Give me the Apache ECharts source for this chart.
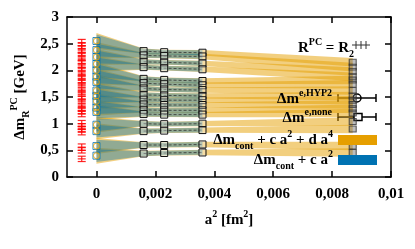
<!DOCTYPE html>
<html><head><meta charset="utf-8">
<script src="https://cdn.jsdelivr.net/npm/echarts@6/dist/echarts.min.js"></script>
<style>html,body{margin:0;padding:0;background:#fff}#c{width:415px;height:249px}</style>
</head><body><div id="c"></div>
<script>
// ---- data ----
const a2Points = [0, 0.0016, 0.0023, 0.0036, 0.0087];   // a^2 [fm^2], first = continuum
const latticeA2 = [0.0016, 0.0023, 0.0036];
const coarseA2 = 0.0087;
// energy levels: value at continuum, a2=0.0016, 0.0023, 0.0036, 0.0087
const levels = [
  [2.55, 2.36, 2.34, 2.33, 2.15],
  [2.38, 2.28, 2.27, 2.26, 2.06],
  [2.25, 2.16, 2.15, 2.13, 1.98],
  [2.12, 2.06, 2.04, 2.02, 1.88],
  [2.00, 1.84, 1.82, 1.80, 1.82],
  [1.88, 1.76, 1.74, 1.72, 1.74],
  [1.78, 1.66, 1.64, 1.63, 1.62],
  [1.62, 1.54, 1.53, 1.52, 1.52],
  [1.52, 1.45, 1.44, 1.44, 1.44],
  [1.42, 1.36, 1.35, 1.35, 1.36],
  [1.30, 1.26, 1.25, 1.25, 1.28],
  [1.22, 1.18, 1.17, 1.17, 1.20],
  [0.98, 1.00, 0.99, 1.00, 1.04],
  [0.86, 0.86, 0.87, 0.88, 0.90],
  [0.58, 0.60, 0.60, 0.61, 0.58],
  [0.40, 0.44, 0.45, 0.46, 0.46]
];
const orangeHalfWidth = [0.15, 0.05, 0.045, 0.05, 0.08];
const blueHalfWidth = [0.12, 0.045, 0.04, 0.045];
const redX = -0.0005;
const redValues = [2.52, 2.46, 2.40, 2.33, 2.26, 2.18, 2.12, 2.05, 1.98, 1.90, 1.83, 1.76, 1.68, 1.60, 1.52, 1.46, 1.38, 1.30, 1.24, 1.18, 1.00, 0.95, 0.90, 0.84, 0.56, 0.50, 0.34];
const redErrors = [0.06, 0.05, 0.06, 0.05, 0.06, 0.05, 0.06, 0.05, 0.06, 0.05, 0.06, 0.05, 0.06, 0.05, 0.06, 0.05, 0.06, 0.05, 0.05, 0.05, 0.06, 0.05, 0.05, 0.05, 0.06, 0.05, 0.05];
const xTicks = [0, 0.002, 0.004, 0.006, 0.008, 0.01];

// ---- build ----
const FONT = '"Liberation Serif", "DejaVu Serif", serif';
const orangeBands = levels.map(l => {
  const it = [];
  a2Points.forEach((x, j) => { it.push(x, l[j] - orangeHalfWidth[j], l[j] + orangeHalfWidth[j]); });
  return it;
});
const blueBands = levels.map(l => {
  const it = [];
  a2Points.slice(0, 4).forEach((x, j) => { it.push(x, l[j] - blueHalfWidth[j], l[j] + blueHalfWidth[j]); });
  return it;
});
function bandRender(n, color) {
  return function (params, api) {
    const top = [], bot = [];
    for (let j = 0; j < n; j++) {
      const x = api.value(3 * j), lo = api.value(3 * j + 1), hi = api.value(3 * j + 2);
      top.push(api.coord([x, hi])); bot.push(api.coord([x, lo]));
    }
    return { type: 'polygon', shape: { points: top.concat(bot.reverse()) }, style: { fill: color } };
  };
}
const series = [];
series.push({ type: 'custom', data: orangeBands, renderItem: bandRender(5, 'rgba(230,159,0,0.5)'), encode: { x: 0, y: 1 }, z: 1, silent: true });
series.push({ type: 'custom', data: blueBands, renderItem: bandRender(4, 'rgba(0,114,178,0.4)'), encode: { x: 0, y: 1 }, z: 2, silent: true });
levels.forEach(l => {
  series.push({
    type: 'line', data: latticeA2.map((x, j) => [x, l[j + 1]]), z: 5,
    lineStyle: { color: '#333', width: 0.8, type: [3, 2] },
    symbol: 'rect', symbolSize: 7, itemStyle: { color: 'rgba(255,255,255,0.3)', borderColor: '#111', borderWidth: 1 }
  });
});
series.push({ type: 'scatter', data: levels.map(l => [coarseA2, l[4]]), z: 5, symbol: 'rect', symbolSize: [7, 6],
  itemStyle: { color: 'rgba(90,90,90,0.5)', borderColor: '#333', borderWidth: 1 } });
series.push({ type: 'scatter', data: levels.map(l => [0, l[0]]), z: 6, symbol: 'rect', symbolSize: 7,
  itemStyle: { color: 'rgba(0,0,0,0)', borderColor: '#0072B2', borderWidth: 1 } });
series.push({ type: 'scatter', data: levels.map(l => [0, l[0]]), z: 6, symbol: 'circle', symbolSize: 6,
  itemStyle: { color: 'rgba(0,0,0,0)', borderColor: '#E69F00', borderWidth: 1 } });
series.push({
  type: 'custom', z: 8, data: redValues.map((v, i) => [redX, v, redErrors[i]]), encode: { x: 0, y: 1 },
  renderItem: function (params, api) {
    const x = api.value(0), y = api.value(1), e = api.value(2);
    const c = api.coord([x, y]), lo = api.coord([x, y - e]), hi = api.coord([x, y + e]);
    const st = { stroke: 'rgba(255,0,0,0.85)', lineWidth: 1.2 };
    return { type: 'group', children: [
      { type: 'line', shape: { x1: lo[0], y1: lo[1], x2: hi[0], y2: hi[1] }, style: st },
      { type: 'line', shape: { x1: lo[0] - 4, y1: lo[1], x2: lo[0] + 4, y2: lo[1] }, style: st },
      { type: 'line', shape: { x1: hi[0] - 4, y1: hi[1], x2: hi[0] + 4, y2: hi[1] }, style: st },
      { type: 'line', shape: { x1: c[0] - 4, y1: c[1], x2: c[0] + 4, y2: c[1] }, style: st }
    ] };
  }
});

const rich = {
  b: { font: 'bold 15px ' + FONT, fill: '#000', verticalAlign: 'middle', lineHeight: 22 },
  sup: { font: 'bold 10px ' + FONT, fill: '#000', verticalAlign: 'top', lineHeight: 22 },
  sub: { font: 'bold 10px ' + FONT, fill: '#000', verticalAlign: 'bottom', lineHeight: 22 }
};
function label(text, x, y, align) {
  return { type: 'text', x: x, y: y, z: 20, style: { text: text, rich: rich, align: align || 'right', verticalAlign: 'middle', font: 'bold 15px ' + FONT } };
}
const axisLine = { show: true, onZero: false, lineStyle: { color: '#000', width: 1.5 } };
const tickStyle = { color: '#000', width: 1.5 };
const option = {
  animation: false,
  grid: { left: 67, right: 24, top: 17, bottom: 72 },
  xAxis: [
    { type: 'value', min: -0.001, max: 0.01, position: 'bottom', axisLine: axisLine, splitLine: { show: false },
      axisTick: { inside: true, length: 6, lineStyle: tickStyle, customValues: xTicks },
      axisLabel: { customValues: xTicks, margin: 10, color: '#000', fontFamily: FONT, fontWeight: 'bold', fontSize: 15,
        formatter: v => v === 0 ? '0' : String(+v.toFixed(3)).replace('.', ',') } },
    { type: 'value', min: -0.001, max: 0.01, position: 'top', axisLine: axisLine, splitLine: { show: false },
      axisTick: { inside: true, length: 6, lineStyle: tickStyle, customValues: xTicks },
      axisLabel: { show: false } }
  ],
  yAxis: [
    { type: 'value', min: 0, max: 3, interval: 0.5, position: 'left', axisLine: axisLine, splitLine: { show: false },
      axisTick: { inside: true, length: 6, lineStyle: tickStyle },
      axisLabel: { margin: 8, color: '#000', fontFamily: FONT, fontWeight: 'bold', fontSize: 15, formatter: v => String(v).replace('.', ',') } },
    { type: 'value', min: 0, max: 3, interval: 0.5, position: 'right', axisLine: axisLine, splitLine: { show: false },
      axisTick: { inside: true, length: 6, lineStyle: tickStyle }, axisLabel: { show: false } }
  ],
  series: series,
  graphic: [
    { type: 'text', x: 229, y: 220, style: { text: '{b|a}{sup|2}{b| [fm}{sup|2}{b|]}', rich: rich, align: 'center', verticalAlign: 'middle' } },
    { type: 'text', x: 20, y: 97, rotation: Math.PI / 2, style: { text: '{b|Δm}{sub|R}{sup|PC}{b| [GeV]}', rich: rich, align: 'center', verticalAlign: 'middle' } },
    label('{b|R}{sup|PC}{b| = R}{sub|2}', 354, 48),
    { type: 'group', z: 20, children: [
      { type: 'line', shape: { x1: 352, y1: 45, x2: 370, y2: 45 }, style: { stroke: '#333', lineWidth: 1 } },
      { type: 'line', shape: { x1: 356, y1: 41, x2: 356, y2: 49 }, style: { stroke: '#333', lineWidth: 1 } },
      { type: 'line', shape: { x1: 361, y1: 41, x2: 361, y2: 49 }, style: { stroke: '#333', lineWidth: 1 } },
      { type: 'line', shape: { x1: 366, y1: 41, x2: 366, y2: 49 }, style: { stroke: '#333', lineWidth: 1 } }
    ] },
    label('{b|Δm}{sup|e,HYP2}', 332, 99),
    { type: 'group', z: 20, children: [
      { type: 'line', shape: { x1: 338, y1: 98, x2: 376, y2: 98 }, style: { stroke: '#000', lineWidth: 1.5 } },
      { type: 'line', shape: { x1: 338, y1: 94, x2: 338, y2: 102 }, style: { stroke: '#000', lineWidth: 1.5 } },
      { type: 'line', shape: { x1: 376, y1: 94, x2: 376, y2: 102 }, style: { stroke: '#000', lineWidth: 1.5 } },
      { type: 'circle', shape: { cx: 357, cy: 98, r: 4 }, style: { fill: 'none', stroke: '#000', lineWidth: 1.5 } }
    ] },
    label('{b|Δm}{sup|e,none}', 332, 118),
    { type: 'group', z: 20, children: [
      { type: 'line', shape: { x1: 338, y1: 117, x2: 376, y2: 117 }, style: { stroke: '#000', lineWidth: 1.5 } },
      { type: 'line', shape: { x1: 338, y1: 113, x2: 338, y2: 121 }, style: { stroke: '#000', lineWidth: 1.5 } },
      { type: 'line', shape: { x1: 376, y1: 113, x2: 376, y2: 121 }, style: { stroke: '#000', lineWidth: 1.5 } },
      { type: 'rect', shape: { x: 354, y: 113.5, width: 8, height: 7 }, style: { fill: '#fff', stroke: '#000', lineWidth: 1.5 } }
    ] },
    label('{b|Δm}{sub|cont}{b| + c a}{sup|2}{b| + d a}{sup|4}', 333, 140),
    { type: 'rect', z: 20, shape: { x: 338, y: 135, width: 39, height: 10 }, style: { fill: '#E69F00' } },
    label('{b|Δm}{sub|cont}{b| + c a}{sup|2}', 333, 160),
    { type: 'rect', z: 20, shape: { x: 338, y: 155, width: 39, height: 10 }, style: { fill: '#0072B2' } }
  ]
};
const chart = echarts.init(document.getElementById('c'), null, { renderer: 'canvas' });
chart.setOption(option);
</script>
</body></html>
